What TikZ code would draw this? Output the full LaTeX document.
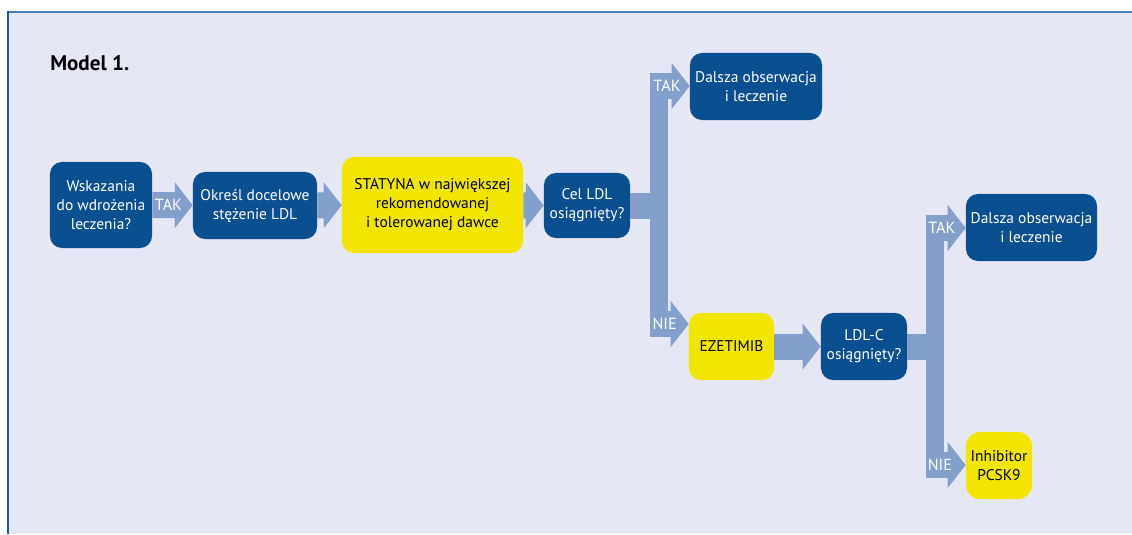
\documentclass[tikz,border=0pt]{standalone}
\usepackage{fontspec}
\setmainfont{PT Sans}
\usetikzlibrary{arrows.meta, positioning}

\definecolor{boxblue}{HTML}{0A4F8F}
\definecolor{boxyellow}{HTML}{F2E600}
\definecolor{flowblue}{HTML}{849FCB}
\definecolor{panelbg}{HTML}{E5E7F4}
\definecolor{rimtop}{HTML}{4A80B8}
\definecolor{rimleft}{HTML}{1F5A9A}

\begin{document}
\begin{tikzpicture}[
    x=0.025cm, y=-0.025cm,
    box/.style={rectangle, rounded corners=0.3cm, align=center, inner sep=0pt, font=\fontsize{11}{13.5}\selectfont},
    bluebox/.style={box, fill=boxblue, text=white},
    yellowbox/.style={box, fill=boxyellow, text=black},
    flow/.style={draw=flowblue, line width=0.65cm, -{Triangle[length=0.45cm, width=1.125cm]}},
    flowbar/.style={draw=flowblue, line width=0.65cm},
    trunk/.style={draw=flowblue, line width=0.45cm},
    flowlabel/.style={text=white, font=\fontsize{11.5}{13.5}\selectfont, inner sep=0pt}
]
    \useasboundingbox (0,0) rectangle (1132,534);

    % panel
    \fill[panelbg] (7,11) rectangle (1132,534);
    \draw[rimtop, line width=0.05cm] (7,12) -- (1132,12);
    \draw[rimleft, line width=0.05cm] (8,11) -- (8,534);

    \node[anchor=west, inner sep=0pt, font=\fontsize{15}{17}\selectfont\bfseries] (title) at (50,63) {Model 1.};

    % boxes
    \node[bluebox, minimum width=2.55cm, minimum height=2.15cm] (wskazania) at (101,205) {Wskazania\\do wdrożenia\\leczenia?};
    \node[bluebox, minimum width=3.1cm, minimum height=1.675cm] (okresl) at (255,205.5) {Określ docelowe\\stężenie LDL};
    \node[yellowbox, minimum width=4.525cm, minimum height=2.4cm] (statyna) at (432.5,205) {STATYNA w największej\\rekomendowanej\\i tolerowanej dawce};
    \node[bluebox, minimum width=2.15cm, minimum height=1.625cm] (cel) at (587,205.5) {Cel LDL\\osiągnięty?};
    \node[bluebox, minimum width=3.3cm, minimum height=1.675cm] (dalsza1) at (756,86.5) {Dalsza obserwacja\\i leczenie};
    \node[yellowbox, minimum width=2.125cm, minimum height=1.675cm] (ezetimib) at (731.5,346.5) {EZETIMIB};
    \node[bluebox, minimum width=2.15cm, minimum height=1.675cm] (ldlc) at (864,346.5) {LDL-C\\osiągnięty?};
    \node[bluebox, minimum width=3.275cm, minimum height=1.675cm] (dalsza2) at (1031.5,227.5) {Dalsza obserwacja\\i leczenie};
    \node[yellowbox, rounded corners=0.35cm, minimum width=1.65cm, minimum height=1.675cm] (inhibitor) at (999,465.5) {Inhibitor\\PCSK9};

    % split points
    \coordinate (t1top) at (659,73);
    \coordinate (t1bot) at (659,337);
    \coordinate (b1) at (650,86);
    \coordinate (b2) at (650,324);
    \coordinate (t2top) at (935,215);
    \coordinate (t2bot) at (935,478);
    \coordinate (b3) at (926,228);
    \coordinate (b4) at (926,465);

    % main line
    \draw[flow] (wskazania) -- (okresl) node[flowlabel, pos=0.4] {TAK};
    \draw[flow] (okresl) -- (statyna);
    \draw[flow] (statyna) -- (cel);

    % first split
    \draw[trunk] (t1top) -- (t1bot);
    \draw[flowbar] (cel.east) -- (cel.east -| t1top);
    \draw[flow] (b1) -- (b1 -| dalsza1.west) node[flowlabel, pos=0.43] {TAK};
    \draw[flow] (b2) -- (b2 -| ezetimib.west) node[flowlabel, pos=0.38] {NIE};
    \draw[flow] (ezetimib) -- (ldlc);

    % second split
    \draw[trunk] (t2top) -- (t2bot);
    \draw[flowbar] (ldlc.east) -- (ldlc.east -| t2top);
    \draw[flow] (b3) -- (b3 -| dalsza2.west) node[flowlabel, pos=0.4] {TAK};
    \draw[flow] (b4) -- (b4 -| inhibitor.west) node[flowlabel, pos=0.35] {NIE};
\end{tikzpicture}
\end{document}
